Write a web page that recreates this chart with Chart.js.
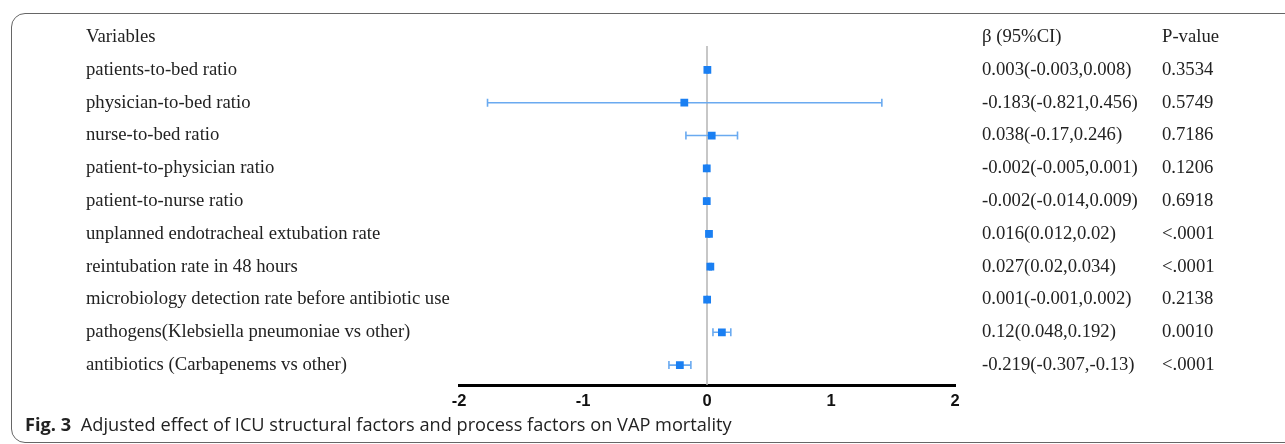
<!DOCTYPE html>
<html>
<head>
<meta charset="utf-8">
<script src="https://cdn.jsdelivr.net/npm/chart.js@4.4.1/dist/chart.umd.min.js"></script>
<style>
  body { margin: 0; background: #fff; }
  #wrap { position: relative; width: 1285px; height: 444px; overflow: hidden; }
  #box { position: absolute; left: 11px; top: 13px; width: 1400px; height: 428px;
         border: 1.5px solid #666; border-radius: 14px; }
  #chartBox { position: absolute; left: 0; top: -18px; width: 1285px; height: 462px; }
  #caption { position: absolute; left: 25px; top: 412px; font-family: "Open Sans", sans-serif;
             font-size: 18.2px; color: #222; white-space: nowrap; }
  #caption b { margin-right: 5px; }
</style>
</head>
<body>
<div id="wrap">
  <div id="box"></div>
  <div id="chartBox"><canvas id="forest"></canvas></div>
  <div id="caption"><b>Fig. 3</b> Adjusted effect of ICU structural factors and process factors on VAP mortality</div>
</div>
<script>
// first entry of each text list is the column header
const variables = ['Variables', 'patients-to-bed ratio', 'physician-to-bed ratio', 'nurse-to-bed ratio',
  'patient-to-physician ratio', 'patient-to-nurse ratio', 'unplanned endotracheal extubation rate',
  'reintubation rate in 48 hours', 'microbiology detection rate before antibiotic use',
  'pathogens(Klebsiella pneumoniae vs other)', 'antibiotics (Carbapenems vs other)'];
const betaText = ['\u03b2 (95%CI)', '0.003(-0.003,0.008)', '-0.183(-0.821,0.456)', '0.038(-0.17,0.246)',
  '-0.002(-0.005,0.001)', '-0.002(-0.014,0.009)', '0.016(0.012,0.02)', '0.027(0.02,0.034)',
  '0.001(-0.001,0.002)', '0.12(0.048,0.192)', '-0.219(-0.307,-0.13)'];
const pText = ['P-value', '0.3534', '0.5749', '0.7186', '0.1206', '0.6918', '<.0001', '<.0001',
  '0.2138', '0.0010', '<.0001'];

// plotted marks as drawn in the figure
const beta  = [0.003, -0.183, 0.038, -0.002, -0.002, 0.016, 0.027, 0.001, 0.12, -0.219];
const lower = [-0.003, -1.77, -0.17, -0.005, -0.014, 0.012, 0.02, -0.001, 0.048, -0.307];
const upper = [0.008, 1.41, 0.246, 0.001, 0.009, 0.02, 0.034, 0.002, 0.192, -0.13];
const xTicks = [-2, -1, 0, 1, 2];

const points = beta.map((b, i) => ({ x: b, y: i + 1 }));

const errorBars = {
  id: 'errorBars',
  beforeDatasetsDraw(chart) {
    const { ctx, scales: { x, y }, chartArea } = chart;
    ctx.save();
    // reference line at zero
    ctx.strokeStyle = '#b5b5b5';
    ctx.lineWidth = 1.5;
    ctx.beginPath();
    ctx.moveTo(x.getPixelForValue(0), y.getPixelForValue(0.27));
    ctx.lineTo(x.getPixelForValue(0), chartArea.bottom);
    ctx.stroke();
    // confidence intervals
    ctx.strokeStyle = '#6aaaf0';
    ctx.lineWidth = 1.6;
    beta.forEach((b, i) => {
      const py = y.getPixelForValue(i + 1);
      const x1 = x.getPixelForValue(lower[i]);
      const x2 = x.getPixelForValue(upper[i]);
      ctx.beginPath();
      ctx.moveTo(x1, py); ctx.lineTo(x2, py);
      ctx.moveTo(x1, py - 4); ctx.lineTo(x1, py + 4);
      ctx.moveTo(x2, py - 4); ctx.lineTo(x2, py + 4);
      ctx.stroke();
    });
    ctx.restore();
  }
};

const serif = { family: '"Liberation Serif", "Times New Roman", serif', size: 18.7 };

new Chart(document.getElementById('forest'), {
  type: 'scatter',
  data: {
    datasets: [{
      data: points,
      pointStyle: 'rect',
      pointRadius: 5.5,
      pointHoverRadius: 5.5,
      backgroundColor: '#1a7ff2',
      borderColor: '#1a7ff2',
      borderWidth: 0
    }]
  },
  options: {
    responsive: true,
    maintainAspectRatio: false,
    animation: false,
    layout: { padding: { top: 0, left: 86, right: 40, bottom: 0 } },
    plugins: { legend: { display: false }, tooltip: { enabled: false } },
    scales: {
      x: {
        type: 'linear', min: -2, max: 2,
        afterBuildTicks: s => { s.ticks = xTicks.map(v => ({ value: v })); },
        afterFit: s => { s.height = 59; },
        grid: { display: false, drawTicks: false },
        border: { color: '#000', width: 3 },
        ticks: { color: '#111', padding: 7, font: { family: '"Liberation Sans", Arial, sans-serif', size: 16.5, weight: 'bold' } }
      },
      y: {
        type: 'linear', position: 'left', reverse: true, min: -0.515, max: 10.606,
        afterBuildTicks: s => { s.ticks = variables.map((t, i) => ({ value: i })); },
        afterFit: s => { s.width = 373; },
        grid: { display: false, drawTicks: false },
        border: { display: false },
        ticks: { crossAlign: 'far', color: '#222', font: serif, callback: v => variables[v] }
      },
      yBeta: {
        type: 'linear', position: 'right', reverse: true, min: -0.515, max: 10.606,
        afterBuildTicks: s => { s.ticks = betaText.map((t, i) => ({ value: i })); },
        afterFit: s => { s.width = 207; },
        grid: { display: false, drawTicks: false },
        border: { display: false },
        ticks: { padding: 27, color: '#222', font: serif, callback: v => betaText[v] }
      },
      yP: {
        type: 'linear', position: 'right', reverse: true, min: -0.515, max: 10.606,
        afterBuildTicks: s => { s.ticks = pText.map((t, i) => ({ value: i })); },
        afterFit: s => { s.width = 83; },
        grid: { display: false, drawTicks: false },
        border: { display: false },
        ticks: { padding: 0, color: '#222', font: serif, callback: v => pText[v] }
      }
    }
  },
  plugins: [errorBars]
});
</script>
</body>
</html>
